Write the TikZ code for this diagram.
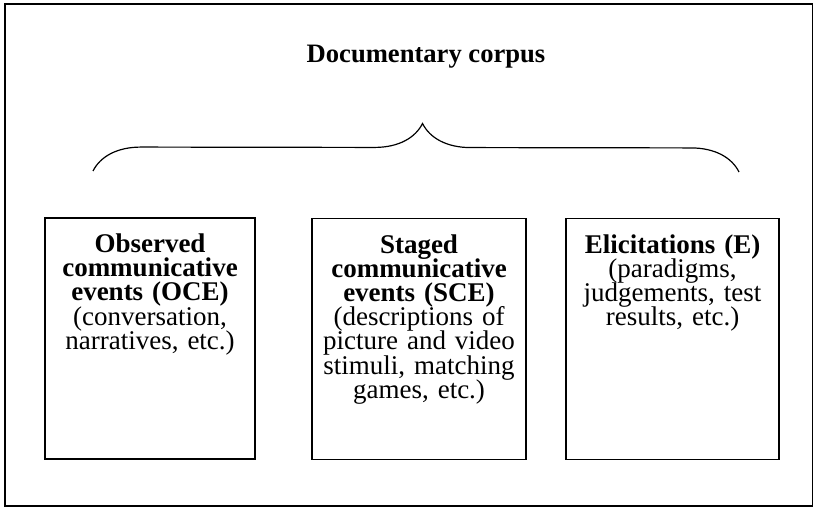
\documentclass[tikz,border=0pt]{standalone}
\usepackage{fontspec}
\setmainfont{Liberation Serif}
\usetikzlibrary{decorations.pathreplacing}

\tikzset{
    corpusbox/.style={draw, line width=0.6pt, minimum height=120.5pt, inner sep=0pt},
    corpustext/.style={anchor=north, align=center, text width=104pt, inner sep=0pt, font={\fontsize{13.5}{12.1}\selectfont\lineskiplimit=-6pt\relax}},
}

\begin{document}
\begin{tikzpicture}[x=0.5pt, y=-0.5pt]
        \useasboundingbox (0,0) rectangle (813,508);
        \draw[line width=0.75pt] (5,4) rectangle (812.5,506);

        \node[anchor=base, inner sep=0pt, font=\fontsize{13.3}{14}\selectfont\bfseries] (corpus) at (426,63) {Documentary corpus};

        \coordinate (braceleft) at (93,171);
        \coordinate (braceright) at (739,172);

        \node[corpusbox, minimum width=105pt] (oce) at (150,338.5) {};
        \node[corpusbox, minimum width=107pt] (sce) at (419,339) {};
        \node[corpusbox, minimum width=106.5pt] (elic) at (672.5,339) {};

        \node[corpustext] (oce-text) at ([yshift=-8pt]oce.north) {\textbf{Observed}\\ \textbf{communicative}\\ \textbf{events (OCE)}\\ (conversation,\\ narratives, etc.)};
        \node[corpustext] (sce-text) at ([yshift=-8pt]sce.north) {\textbf{Staged}\\ \textbf{communicative}\\ \textbf{events (SCE)}\\ (descriptions of\\ picture and video\\ stimuli, matching\\ games, etc.)};
        \node[corpustext] (elic-text) at ([yshift=-8pt]elic.north) {\textbf{Elicitations (E)}\\ (paradigms,\\ judgements, test\\ results, etc.)};

        \draw[line width=0.6pt, decorate, decoration={brace, amplitude=24pt, aspect=0.51}] (braceleft) -- (braceright);
    \end{tikzpicture}
\end{document}
